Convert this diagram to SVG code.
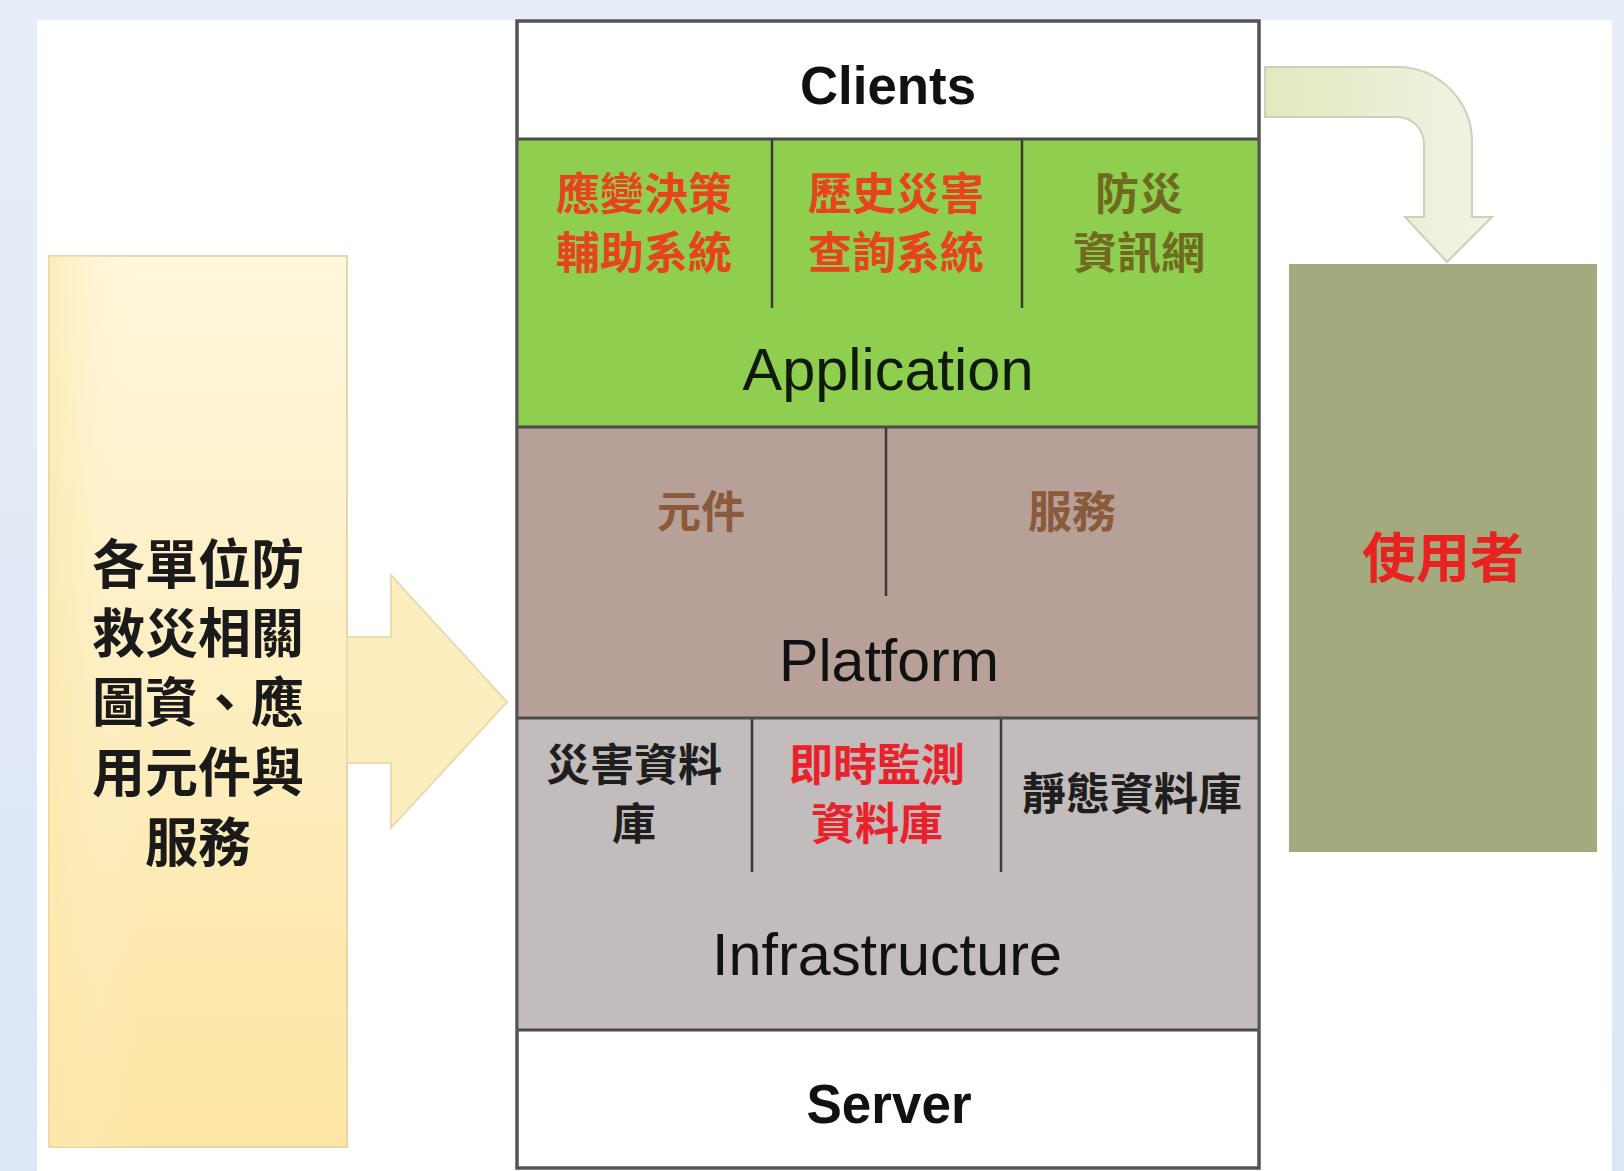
<svg xmlns="http://www.w3.org/2000/svg" width="1624" height="1171" viewBox="0 0 1624 1171">
<defs>
<linearGradient id="yel" x1="0" y1="0" x2="0" y2="1">
<stop offset="0" stop-color="#fff6dc"/>
<stop offset="1" stop-color="#fde6a4"/>
</linearGradient>
<linearGradient id="yelx" x1="0" y1="0" x2="1" y2="0">
<stop offset="0" stop-color="#fce8a8" stop-opacity="0.6"/>
<stop offset="0.3" stop-color="#fff4d6" stop-opacity="0"/>
</linearGradient>
<linearGradient id="curv" x1="0" y1="0" x2="1" y2="0">
<stop offset="0" stop-color="#e3e8c0"/>
<stop offset="1" stop-color="#f2f4e4"/>
</linearGradient>
<linearGradient id="bg" x1="0" y1="0" x2="0" y2="1">
<stop offset="0" stop-color="#e6eef8"/>
<stop offset="1" stop-color="#dde6f4"/>
</linearGradient>
</defs>
<style>
text{font-family:"Liberation Sans","Noto Sans CJK TC",sans-serif;text-anchor:middle}
.cjk{font-family:"Noto Sans CJK TC","Liberation Sans",sans-serif}
.b{font-weight:bold}
.row{stroke:#4a4a4a;stroke-width:3}
.div{stroke:#3a3a3a;stroke-width:2.5}
</style>
<rect x="0" y="0" width="1624" height="1171" fill="url(#bg)"/>
<rect x="37" y="20" width="1575" height="1151" fill="#ffffff"/>

<g id="source">
<rect x="49" y="256" width="298" height="891" fill="url(#yel)" stroke="#e6d6ac" stroke-width="2"/>
<rect x="49" y="256" width="298" height="891" fill="url(#yelx)"/>
<text class="cjk b" font-size="53" fill="#1a1a1a" x="198" y="584">各單位防</text>
<text class="cjk b" font-size="53" fill="#1a1a1a" x="198" y="653">救災相關</text>
<text class="cjk b" font-size="53" fill="#1a1a1a" x="198" y="722">圖資、應</text>
<text class="cjk b" font-size="53" fill="#1a1a1a" x="198" y="792">用元件與</text>
<text class="cjk b" font-size="53" fill="#1a1a1a" x="198" y="862">服務</text>
</g>

<g id="connectors">
<polygon points="347,637 391,637 391,575 507,702 391,828 391,763 347,763" fill="#fdeec0" stroke="#eadcb0" stroke-width="2"/>
<path d="M1265 67 L1397 67 A75 75 0 0 1 1472 142 L1472 217 L1492 217 L1447 262 L1405 217 L1424 217 L1424 144 A27 27 0 0 0 1397 117 L1265 117 Z" fill="url(#curv)" stroke="#cdd1b8" stroke-width="2"/>
</g>

<g id="stack">
<rect x="517" y="21" width="742" height="1147" fill="#ffffff" stroke="#555555" stroke-width="3"/>
<g id="clients">
<text class="b" font-size="54" fill="#111" x="888" y="104" textLength="176" lengthAdjust="spacingAndGlyphs">Clients</text>
</g>
<g id="application">
<rect x="517" y="139" width="742" height="288" fill="#8fce4f"/>
<line class="div" x1="772" y1="139" x2="772" y2="308"/>
<line class="div" x1="1022" y1="139" x2="1022" y2="308"/>
<text class="cjk b" font-size="44" fill="#e6441c" x="644" y="210">應變決策</text>
<text class="cjk b" font-size="44" fill="#e6441c" x="644" y="269">輔助系統</text>
<text class="cjk b" font-size="44" fill="#e6441c" x="896" y="210">歷史災害</text>
<text class="cjk b" font-size="44" fill="#e6441c" x="896" y="269">查詢系統</text>
<text class="cjk b" font-size="44" fill="#6f6a20" x="1139" y="210">防災</text>
<text class="cjk b" font-size="44" fill="#6f6a20" x="1139" y="269">資訊網</text>
<text font-size="60" fill="#0f1a0a" x="888" y="390" textLength="291" lengthAdjust="spacingAndGlyphs">Application</text>
</g>
<g id="platform">
<rect x="517" y="427" width="742" height="291" fill="#b6a098"/>
<line class="div" x1="886" y1="427" x2="886" y2="596"/>
<text class="cjk b" font-size="44" fill="#8a5a3a" x="701" y="528">元件</text>
<text class="cjk b" font-size="44" fill="#8a5a3a" x="1072" y="528">服務</text>
<text font-size="60" fill="#111" x="889" y="681" textLength="220" lengthAdjust="spacingAndGlyphs">Platform</text>
</g>
<g id="infrastructure">
<rect x="517" y="718" width="742" height="312" fill="#c3bcbc"/>
<line class="div" x1="752" y1="718" x2="752" y2="872"/>
<line class="div" x1="1001" y1="718" x2="1001" y2="872"/>
<text class="cjk b" font-size="44" fill="#1e1e1e" x="634" y="781">災害資料</text>
<text class="cjk b" font-size="44" fill="#1e1e1e" x="634" y="840">庫</text>
<text class="cjk b" font-size="44" fill="#e8222a" x="877" y="781">即時監測</text>
<text class="cjk b" font-size="44" fill="#e8222a" x="877" y="840">資料庫</text>
<text class="cjk b" font-size="44" fill="#1e1e1e" x="1132" y="810">靜態資料庫</text>
<text font-size="59" fill="#111" x="887" y="975" textLength="350" lengthAdjust="spacingAndGlyphs">Infrastructure</text>
</g>
<g id="server">
<text class="b" font-size="56" fill="#111" x="889" y="1123" textLength="165" lengthAdjust="spacingAndGlyphs">Server</text>
</g>
<line class="row" x1="517" y1="139" x2="1259" y2="139"/>
<line class="row" x1="517" y1="427" x2="1259" y2="427"/>
<line class="row" x1="517" y1="718" x2="1259" y2="718"/>
<line class="row" x1="517" y1="1030" x2="1259" y2="1030"/>
<rect x="517" y="21" width="742" height="1147" fill="none" stroke="#555555" stroke-width="3"/>
</g>

<g id="users">
<rect x="1289" y="264" width="308" height="588" fill="#a3aa7e"/>
<text class="cjk b" font-size="54" fill="#e8221e" x="1443" y="578">使用者</text>
</g>
</svg>
